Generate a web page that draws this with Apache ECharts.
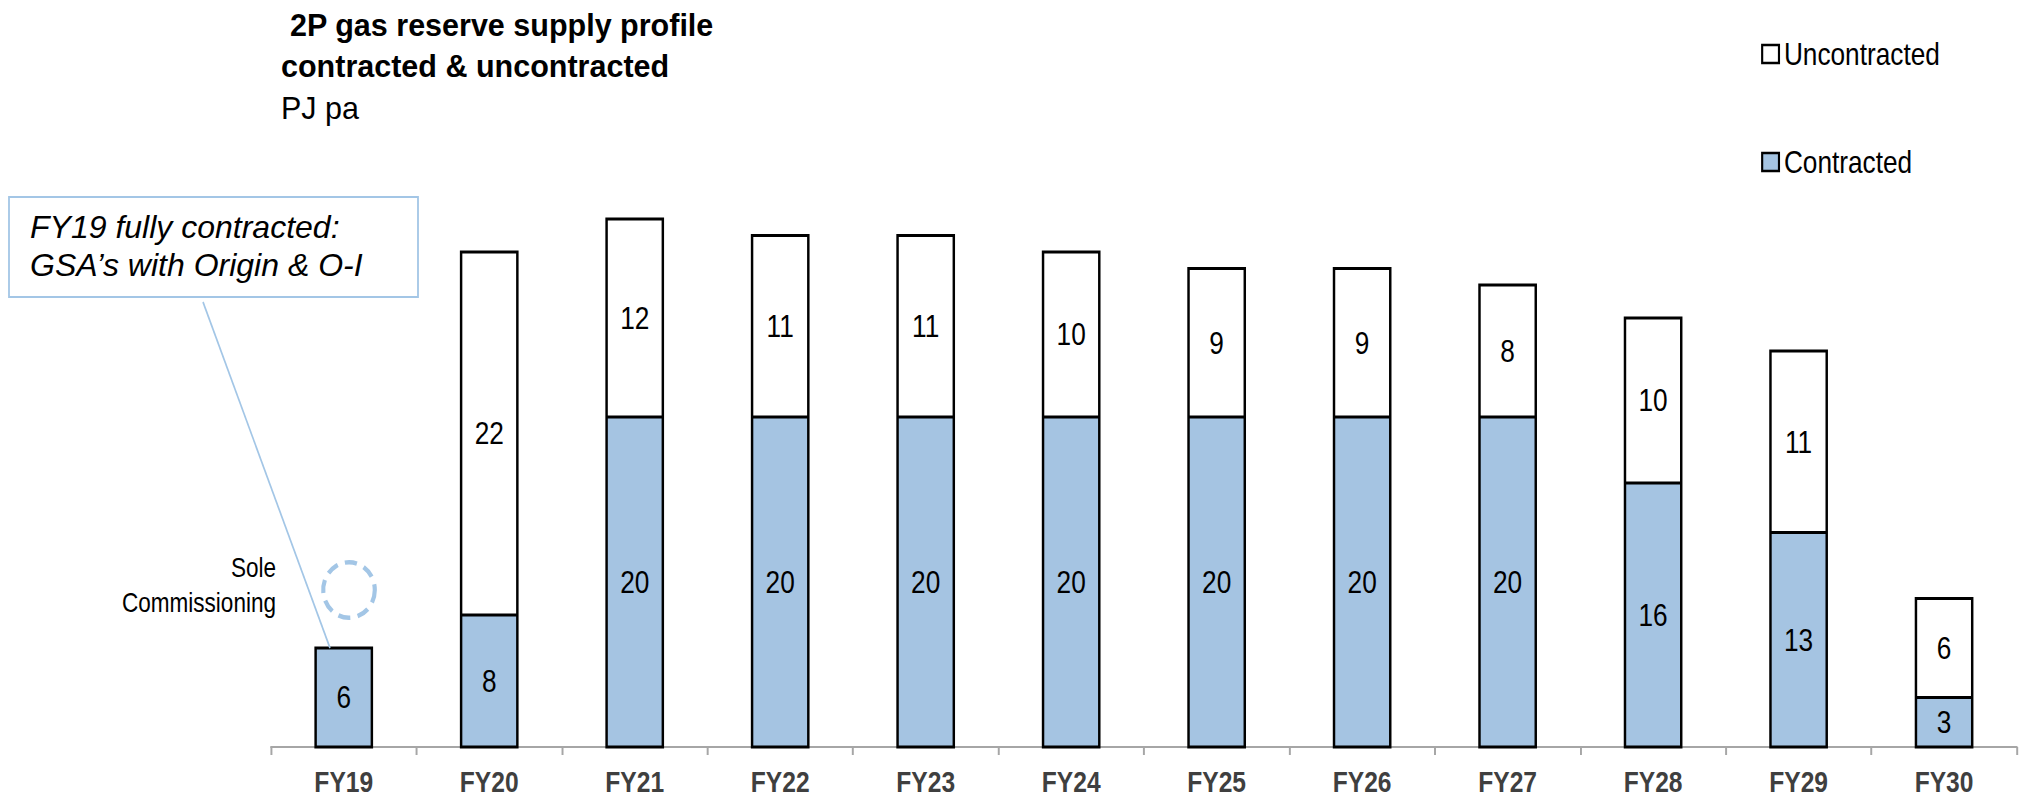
<!DOCTYPE html>
<html>
<head>
<meta charset="utf-8">
<script src="https://cdn.jsdelivr.net/npm/echarts@6/dist/echarts.min.js"></script>
<style>
  html, body { margin: 0; padding: 0; background: #ffffff; overflow: hidden; }
  #frame { width: 2022px; height: 801px; overflow: hidden; position: relative; }
  /* The chart is laid out wider and condensed horizontally, giving narrow type */
  #chart { width: 2466px; height: 801px; transform: scaleX(0.82); transform-origin: 0 0; }
</style>
</head>
<body>
<div id="frame"><div id="chart"></div></div>
<script>
// Financial years on the category axis
const categories = ['FY19', 'FY20', 'FY21', 'FY22', 'FY23', 'FY24', 'FY25', 'FY26', 'FY27', 'FY28', 'FY29', 'FY30'];
// 2P gas reserve supply, PJ pa
const contracted = [6, 8, 20, 20, 20, 20, 20, 20, 20, 16, 13, 3];
const uncontracted = [null, 22, 12, 11, 11, 10, 9, 9, 8, 10, 11, 6];

// horizontal condensing factor of the chart container
const SX = 0.82;
const hx = x => x / SX;           // page x -> chart x
const widen = r => r / SX;        // element scale that gives an effective width ratio r

const SANS = "'Liberation Sans', Arial, Helvetica, sans-serif";
const BLUE = '#a5c4e2';
const LINE_BLUE = '#a3c6e6';
const BAR_W = 68.6;               // bar width in chart units
const EDGE = 3;                   // outline stroke

const chart = echarts.init(document.getElementById('chart'), null, { renderer: 'svg' });

const barLabel = {
  show: true,
  position: 'inside',
  color: '#000000',
  fontFamily: SANS,
  fontSize: 32,
  formatter: '{c}'
};

function label(text, x, y, font, ratio, align) {
  return {
    type: 'text',
    x: hx(x), y: y,
    scaleX: widen(ratio),
    style: { text: text, font: font, fill: '#000000', textAlign: align || 'left', textVerticalAlign: 'middle' },
    z: 11
  };
}

// black outline around each stacked column, with a single divider between segments
function renderOutline(params, api) {
  const i = api.value(0);
  const c = api.value(1);
  const u = api.value(2);
  const base = api.coord([i, 0]);
  const mid = api.coord([i, c]);
  const top = api.coord([i, c + u]);
  const x0 = base[0] - BAR_W / 2;
  const children = [{
    type: 'rect',
    shape: { x: x0, y: top[1], width: BAR_W, height: base[1] - top[1] },
    style: { fill: 'none', stroke: '#000000', lineWidth: EDGE }
  }];
  if (u > 0 && c > 0) {
    children.push({
      type: 'line',
      shape: { x1: x0, y1: mid[1], x2: x0 + BAR_W, y2: mid[1] },
      style: { stroke: '#000000', lineWidth: EDGE }
    });
  }
  return { type: 'group', children: children };
}

chart.setOption({
  animation: false,
  backgroundColor: '#ffffff',
  legend: {
    data: ['Uncontracted', 'Contracted'],
    orient: 'vertical',
    left: hx(1757),
    top: 33,
    itemWidth: 20.5,
    itemHeight: 18,
    itemGap: 76,
    icon: 'rect',
    itemStyle: { borderWidth: 2.6, borderColor: '#000000' },
    textStyle: { fontFamily: SANS, fontSize: 32, color: '#000000', padding: [0, 0, 0, 1] }
  },
  grid: { left: hx(271), right: hx(5.3), top: 87, bottom: 54, containLabel: false },
  xAxis: {
    type: 'category',
    data: categories,
    boundaryGap: true,
    axisLine: { show: true, lineStyle: { color: '#a6a6a6', width: 2.2 } },
    axisTick: { show: true, alignWithLabel: false, length: 8, lineStyle: { color: '#a6a6a6', width: 2.4 } },
    axisLabel: { fontFamily: SANS, fontWeight: 'bold', fontSize: 30, color: '#3f3f3f', margin: 20 }
  },
  yAxis: {
    type: 'value',
    min: 0,
    max: 40,
    show: false,
    splitLine: { show: false }
  },
  series: [
    {
      name: 'Contracted',
      type: 'bar',
      stack: 'supply',
      data: contracted,
      barWidth: BAR_W,
      itemStyle: { color: BLUE, borderWidth: 0 },
      label: barLabel
    },
    {
      name: 'Uncontracted',
      type: 'bar',
      stack: 'supply',
      data: uncontracted,
      barWidth: BAR_W,
      itemStyle: { color: '#ffffff', borderWidth: 0 },
      label: barLabel
    },
    {
      name: 'outline',
      type: 'custom',
      coordinateSystem: 'cartesian2d',
      silent: true,
      z: 3,
      data: categories.map((c, i) => [i, contracted[i], uncontracted[i] || 0]),
      encode: { x: 0, y: 1 },
      renderItem: renderOutline
    }
  ],
  graphic: [
    // heading
    label(' 2P gas reserve supply profile', 281.5, 25, "bold 30.5px " + SANS, 1.0),
    label('contracted & uncontracted', 281, 66, "bold 30.5px " + SANS, 1.0),
    label('PJ pa', 281, 108, "30.5px " + SANS, 1.0),
    // callout box
    {
      type: 'rect',
      shape: { x: hx(9), y: 197, width: hx(409), height: 100 },
      style: { fill: '#ffffff', stroke: LINE_BLUE, lineWidth: 2.2 },
      z: 10
    },
    label('FY19 fully contracted:', 30, 227, "italic 32px " + SANS, 1.0),
    label('GSA\u2019s with Origin & O-I', 30, 265, "italic 32px " + SANS, 1.0),
    // leader line to the FY19 bar
    {
      type: 'line',
      shape: { x1: hx(203), y1: 302, x2: hx(330), y2: 648 },
      style: { stroke: LINE_BLUE, lineWidth: 2 },
      z: 10
    },
    // dashed commissioning marker
    {
      type: 'circle',
      x: hx(349), y: 590,
      scaleX: widen(0.93),
      shape: { cx: 0, cy: 0, r: 27.75 },
      style: { fill: 'none', stroke: LINE_BLUE, lineWidth: 4.5, lineDash: [13, 8] },
      z: 10
    },
    label('Sole', 276, 567, "27.5px " + SANS, 0.82, 'right'),
    label('Commissioning', 276, 602, "27.5px " + SANS, 0.82, 'right')
  ]
});
</script>
</body>
</html>
